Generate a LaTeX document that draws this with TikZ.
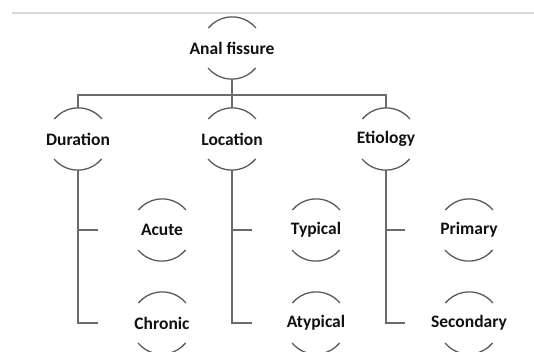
\documentclass[tikz,border=0pt]{standalone}
\usepackage{fontspec}
\setmainfont{Carlito}
\usetikzlibrary{calc}
\definecolor{linegray}{HTML}{6A6A6A}
\definecolor{arcgray}{HTML}{5A5A5A}
\definecolor{rulegray}{HTML}{D9D9D9}
\definecolor{txt}{HTML}{111111}
\newcommand{\zbox}[1]{\makebox[0pt]{#1}}
\begin{document}
\begin{tikzpicture}[x=1pt,y=-1pt,
  topic/.style={circle,minimum size=62pt,inner sep=0pt,text=txt,
    font=\fontsize{17.5}{20}\selectfont\bfseries},
  conn/.style={draw=linegray,line width=1.4pt},
  arcline/.style={draw=arcgray,line width=1.3pt}]
\useasboundingbox (0,0) rectangle (534,352);
\draw[rulegray,line width=1.5pt] (12,13) -- (534,13);
% nodes
\node[topic] (af) at (232,48) {\zbox{Anal fissure}};
\node[topic] (dur) at (78,139) {\zbox{Duration}};
\node[topic] (loc) at (232,139) {\zbox{Location}};
\node[topic] (eti) at (386,139) {\zbox{Etiology}};
\node[topic] (acu) at (162,230) {\zbox{Acute}};
\node[topic] (chr) at (162,323) {\zbox{Chronic}};
\node[topic] (typ) at (316,230) {\zbox{Typical}};
\node[topic] (aty) at (316,323) {\zbox{Atypical}};
\node[topic] (pri) at (469,230) {\zbox{Primary}};
\node[topic] (sec) at (469,323) {\zbox{Secondary}};
% arcs
\foreach \n in {af,dur,loc,eti,acu,chr,typ,aty,pri,sec}{
  \draw[arcline] (\n.40) arc[start angle=40,end angle=140,radius=31pt];
  \draw[arcline] (\n.220) arc[start angle=220,end angle=320,radius=31pt];
}
% connectors
\coordinate (bus) at (232,95);
\draw[conn] (af.south) -- (bus);
\draw[conn] (dur.north) |- (bus) -| (eti.north);
\draw[conn] (bus) -- (loc.north);
\foreach \p/\a/\b in {dur/acu/chr,loc/typ/aty,eti/pri/sec}{
  \coordinate (\a-t) at ($(\a.center)+(-64,0)$);
  \coordinate (\b-t) at ($(\b.center)+(-64,0)$);
  \draw[conn] (\p.south) |- (\b-t);
  \draw[conn] (\a-t -| \p.south) -- (\a-t);
}
\end{tikzpicture}
\end{document}
